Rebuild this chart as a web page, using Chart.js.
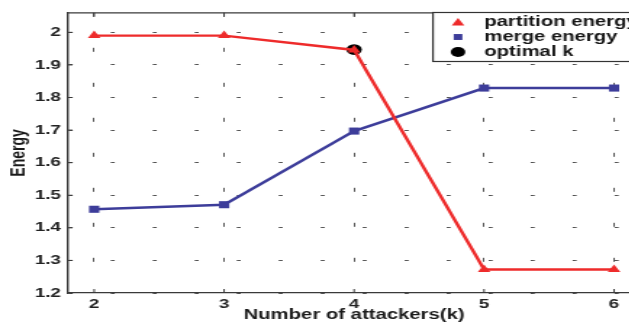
<!DOCTYPE html>
<html>
<head>
<meta charset="utf-8">
<script src="https://cdn.jsdelivr.net/npm/chart.js@4/dist/chart.umd.min.js"></script>
<style>
  html, body { margin: 0; padding: 0; background: #fff; overflow: hidden; width: 629px; height: 325px; }
  #wrap { position: absolute; left: 0; top: 0; transform: scaleX(1.45); transform-origin: 0 0; }
  canvas { display: block; }
</style>
</head>
<body>
<div id="wrap"><canvas id="c" width="450" height="325"></canvas></div>
<script>
// ---- data ----
const kValues = [2, 3, 4, 5, 6];
const partitionEnergy = [1.99, 1.99, 1.946, 1.272, 1.272];
const mergeEnergy = [1.457, 1.471, 1.697, 1.829, 1.829];
const optimalK = [4];
const optimalEnergy = [1.947];
const xTicks = [2, 3, 4, 5, 6];
const yTicks = [1.2, 1.3, 1.4, 1.5, 1.6, 1.7, 1.8, 1.9, 2];
const seriesNames = ['partition energy', 'merge energy', 'optimal k'];
const xTitle = 'Number of attackers(k)';
const yTitle = 'Energy';

const RED = '#ee2b2b';
const BLUE = '#3d3d9a';
const FONT = "'Liberation Sans', Arial, sans-serif";
const AXIS = '#3a3a3a';

const toPts = (xs, ys) => xs.map((x, i) => ({ x: x, y: ys[i] }));

function marker(ctx, style, x, y, r, color) {
  ctx.save();
  ctx.fillStyle = color;
  ctx.beginPath();
  if (style === 'triangle') {
    const a = 2 * Math.PI / 3;
    ctx.moveTo(x, y - r);
    ctx.lineTo(x + Math.sin(a) * r, y - Math.cos(a) * r);
    ctx.lineTo(x - Math.sin(a) * r, y - Math.cos(a) * r);
    ctx.closePath();
  } else if (style === 'rect') {
    const s = Math.SQRT1_2 * r;
    ctx.rect(x - s, y - s, 2 * s, 2 * s);
  } else {
    ctx.arc(x, y, r, 0, Math.PI * 2);
  }
  ctx.fill();
  ctx.restore();
}

const boxPlugin = {
  id: 'boxPlugin',
  afterDatasetsDraw(chart) {
    const ctx = chart.ctx;
    const a = chart.chartArea;
    const xs = chart.scales.x, ys = chart.scales.y;
    ctx.save();
    ctx.strokeStyle = AXIS;
    ctx.lineWidth = 1.3;
    ctx.beginPath();
    ctx.moveTo(a.left, a.top);
    ctx.lineTo(chart.width + 5, a.top);
    ctx.stroke();
    ctx.lineWidth = 1;
    ctx.beginPath();
    xTicks.forEach(v => {
      const px = xs.getPixelForValue(v);
      ctx.moveTo(px, a.bottom); ctx.lineTo(px, a.bottom - 4);
      ctx.moveTo(px, a.top); ctx.lineTo(px, a.top + 4);
    });
    yTicks.forEach(v => {
      const py = ys.getPixelForValue(v);
      ctx.moveTo(a.left, py); ctx.lineTo(a.left + 3, py);
    });
    ctx.stroke();

    // legend
    const bx = 298.6, by = 12.5, bh = 49;
    ctx.fillStyle = '#fff';
    ctx.fillRect(bx, by, chart.width - bx + 5, bh);
    ctx.strokeStyle = '#333';
    ctx.lineWidth = 1.2;
    ctx.strokeRect(bx, by, chart.width - bx + 5, bh);
    const rows = [22, 37, 52];
    const styles = [['triangle', 5, RED], ['rect', 4.2, BLUE], ['circle', 5, '#000']];
    ctx.font = 'bold 14px ' + FONT;
    ctx.textBaseline = 'middle';
    ctx.textAlign = 'left';
    rows.forEach((ry, i) => {
      marker(ctx, styles[i][0], 315.9, ry + (i === 0 ? 1 : 0), styles[i][1], styles[i][2]);
      ctx.fillStyle = '#161616';
      ctx.fillText(seriesNames[i], 334, ry);
    });
    ctx.restore();
  }
};

new Chart(document.getElementById('c'), {
  type: 'line',
  data: {
    datasets: [
      {
        label: seriesNames[0],
        data: toPts(kValues, partitionEnergy),
        borderColor: RED, backgroundColor: RED,
        borderWidth: 2.4, pointStyle: 'triangle', pointRadius: 5,
        pointBorderWidth: 0, tension: 0
      },
      {
        label: seriesNames[1],
        data: toPts(kValues, mergeEnergy),
        borderColor: BLUE, backgroundColor: BLUE,
        borderWidth: 2.4, pointStyle: 'rect', pointRadius: 5,
        pointBorderWidth: 0, tension: 0
      },
      {
        label: seriesNames[2],
        data: toPts(optimalK, optimalEnergy),
        borderColor: '#000', backgroundColor: '#000',
        showLine: false, pointStyle: 'circle', pointRadius: 5.3,
        pointBorderWidth: 0
      }
    ]
  },
  options: {
    responsive: false,
    animation: false,
    devicePixelRatio: 1,
    clip: false,
    layout: { padding: { top: 10, right: 8.6, left: 0, bottom: 0 } },
    plugins: { legend: { display: false }, tooltip: { enabled: false } },
    scales: {
      x: {
        type: 'linear',
        min: 1.8, max: 6.2,
        afterBuildTicks: s => { s.ticks = xTicks.map(v => ({ value: v })); },
        afterFit: s => { s.height = 32; },
        grid: { color: '#555', lineWidth: 1, drawTicks: false },
        border: { display: true, color: AXIS, width: 1.3, dash: [4, 31] },
        ticks: { padding: 4, color: '#222', font: { family: FONT, size: 13, weight: 'bold' } },
        title: { display: true, text: xTitle, color: '#1a1a1a', padding: { top: 0, bottom: 1.2 },
                 font: { family: FONT, size: 14, weight: 'bold' } }
      },
      y: {
        type: 'linear',
        min: 1.2, max: 2.06,
        afterBuildTicks: s => { s.ticks = yTicks.map(v => ({ value: v })); },
        afterFit: s => { s.width = 47; },
        grid: { color: '#555', lineWidth: 1, drawTicks: false },
        border: { display: true, color: AXIS, width: 1.4, dash: [2.76, 26.2] },
        ticks: { padding: 5, color: '#222', font: { family: FONT, size: 13, weight: 'bold' },
                 callback: v => String(Math.round(v * 10) / 10) },
        title: { display: true, text: yTitle, color: '#1a1a1a', padding: { top: 4.5, bottom: 0 },
                 font: { family: FONT, size: 14, weight: 'bold' } }
      }
    }
  },
  plugins: [boxPlugin]
});
</script>
</body>
</html>
